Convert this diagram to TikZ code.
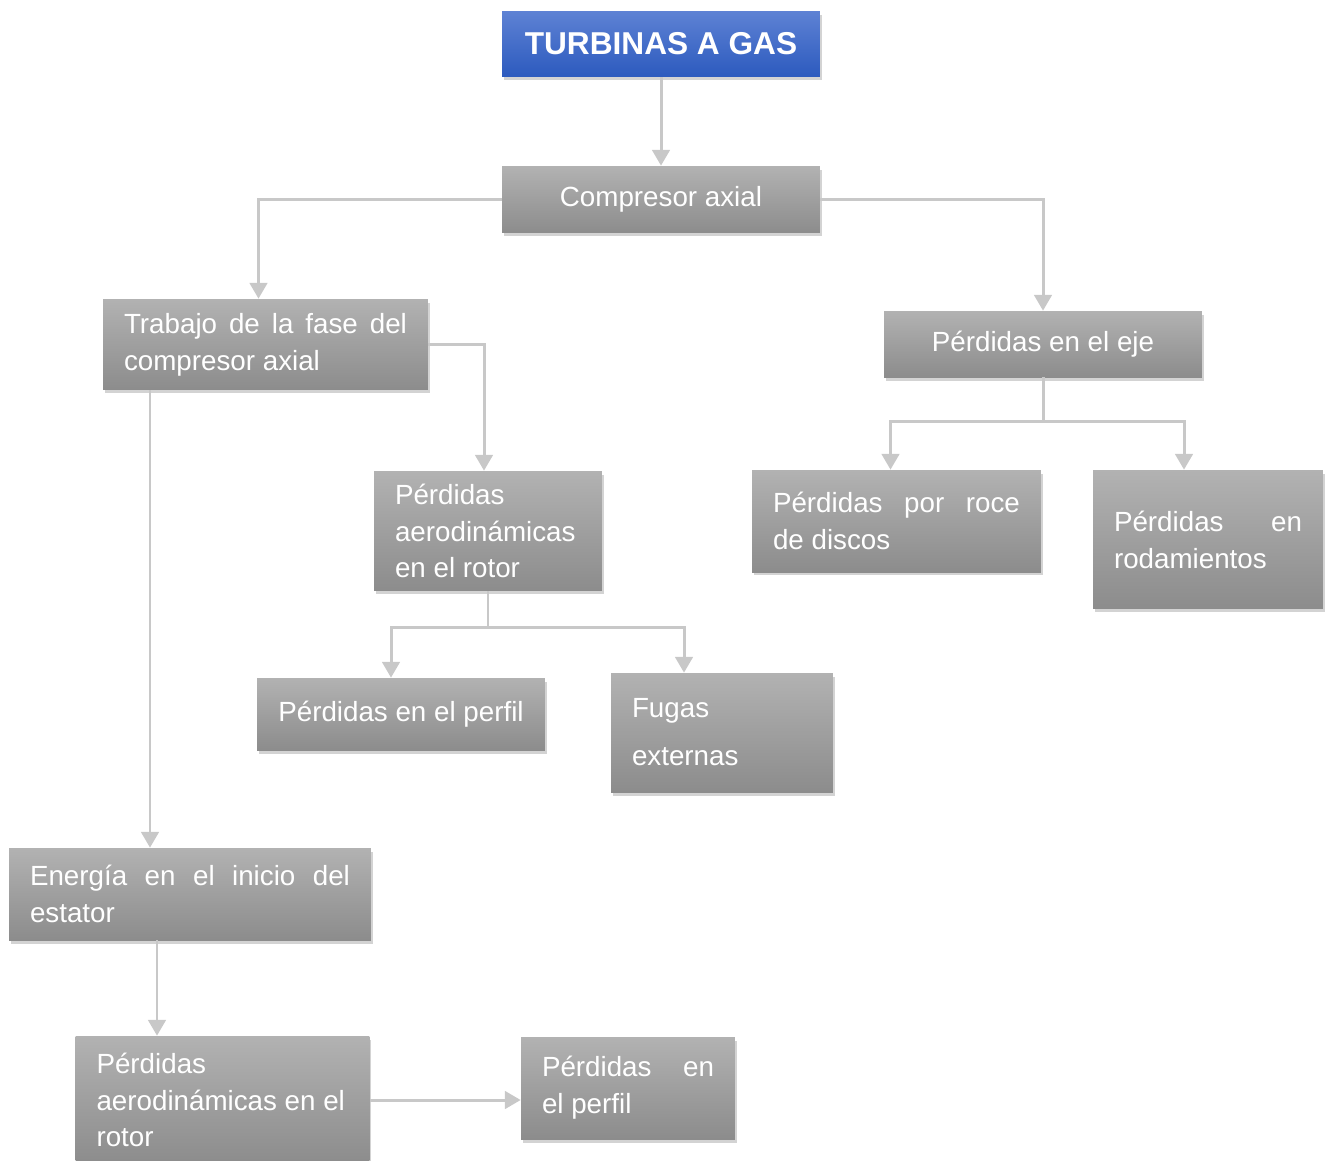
\documentclass[tikz,border=0pt]{standalone}
\usepackage{fontspec}
\setmainfont{Liberation Sans}
\usepackage{xcolor}
\usepackage{tikz}
\usetikzlibrary{arrows.meta, shadows, positioning}
\definecolor{grisclaro}{RGB}{178,178,178}
\definecolor{grisoscuro}{RGB}{140,140,140}
\definecolor{azulclaro}{RGB}{94,130,212}
\definecolor{azuloscuro}{RGB}{44,90,190}
\definecolor{linea}{RGB}{200,200,200}
\tikzstyle{caja} = [rectangle, top color=grisclaro, bottom color=grisoscuro, draw=none, text=white, inner xsep=0.42cm, font=\fontsize{15.8}{21}\selectfont, drop shadow={shadow xshift=0.04cm, shadow yshift=-0.07cm, opacity=0.35}]
\tikzstyle{flecha} = [line width=1.7pt, draw=linea, -{Triangle[width=10pt,length=9pt]}]
\hyphenpenalty=10000
\tolerance=9999

\begin{document}
\begin{tikzpicture}[
    x=0.02cm, y=-0.02cm,
    texto/.style={align=justify, text width=#1},
    titulo/.style={caja, top color=azulclaro, bottom color=azuloscuro, minimum width=6.36cm, minimum height=1.32cm, font=\fontsize{18}{22}\selectfont\bfseries}
]
\useasboundingbox (0,0) rectangle (1332,1160);

% Nodes
\node (turbinas) [titulo] at (661,44) {TURBINAS A GAS};
\node (compresor) [caja, minimum width=6.36cm, minimum height=1.34cm] at (661,199.5) {Compresor axial};
\node (trabajo) [caja, texto=5.66cm, minimum height=1.82cm] at (265.5,344.5) {Trabajo de la fase del\linebreak compresor axial};
\node (eje) [caja, minimum width=6.36cm, minimum height=1.32cm] at (1043,344) {Pérdidas en el eje};
\node (aerorotor) [caja, texto=3.72cm, minimum height=2.4cm] at (488,531) {Pérdidas\\ aerodinámicas\\ en el rotor};
\node (roce) [caja, texto=4.94cm, minimum height=2.04cm] at (896.5,521) {Pérdidas por roce\linebreak de discos};
\node (rodamientos) [caja, texto=3.76cm, minimum height=2.78cm] at (1208,539.5) {Pérdidas en\linebreak rodamientos};
\node (perfil) [caja, minimum width=5.76cm, minimum height=1.44cm] at (401,714) {Pérdidas en el perfil};
\node (fugas) [caja, texto=3.6cm, minimum height=2.38cm] at (722,732.5) {Fugas\\[0.22cm] externas};
\node (energia) [caja, texto=6.4cm, minimum height=1.84cm] at (190,894) {Energía en el inicio del\linebreak estator};
\node (aerorotor2) [caja, texto=5.04cm, minimum height=2.56cm] at (222.5,1100) {Pérdidas\\ aerodinámicas en el\\ rotor};
\node (perfil2) [caja, texto=3.44cm, minimum height=2.04cm] at (628,1088) {Pérdidas en\linebreak el perfil};

\coordinate (baja) at (150,0);
\coordinate (baja2) at (157,0);

% Arrows
\draw [flecha] (turbinas) -- (compresor);
\draw [flecha] (compresor.west) -| ([xshift=-0.14cm]trabajo.north);
\draw [flecha] (compresor.east) -| (eje.north);
\draw [flecha] (trabajo.east) -| ([xshift=-0.08cm]aerorotor.north);
\draw [flecha] (trabajo.south -| baja) -- (energia.north -| baja);
\draw [flecha] (eje.south) -- ++(0,44) coordinate (rama1) -| ([xshift=-0.12cm]roce.north);
\draw [flecha] (rama1) -| ([xshift=-0.48cm]rodamientos.north);
\draw [flecha] (aerorotor.south) -- ++(0,36) coordinate (rama2) -| ([xshift=-0.2cm]perfil.north);
\draw [flecha] (rama2) -| ([xshift=-0.76cm]fugas.north);
\draw [flecha] (energia.south -| baja2) -- (aerorotor2.north -| baja2);
\draw [flecha] (aerorotor2.east) -- (aerorotor2.east -| perfil2.west);

\end{tikzpicture}
\end{document}
